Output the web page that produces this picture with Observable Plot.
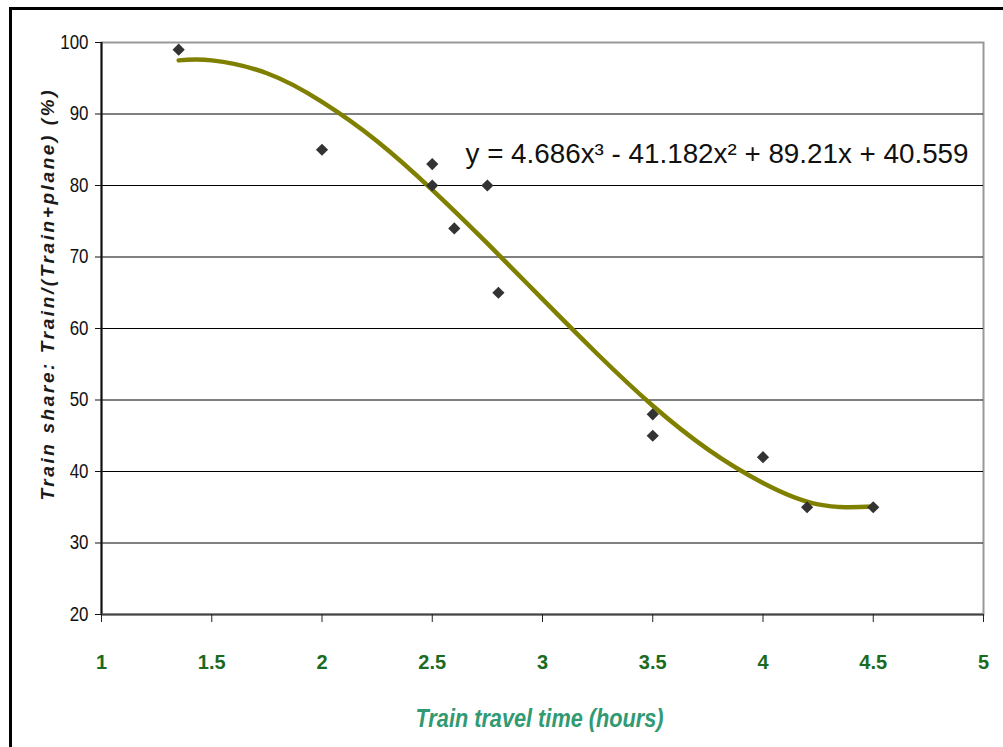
<!DOCTYPE html>
<html>
<head>
<meta charset="utf-8">
<script src="https://cdn.jsdelivr.net/npm/d3@7"></script>
<script src="https://cdn.jsdelivr.net/npm/@observablehq/plot@0.6"></script>
<style>
  html, body { margin: 0; padding: 0; background: #fff; }
  #wrap { position: relative; width: 1003px; height: 747px; overflow: hidden; }
  #outer { position: absolute; left: 9px; top: 7px; width: 1010px; height: 780px; border: 3px solid #000; box-sizing: border-box; pointer-events: none; }
  #chart { position: absolute; left: 0; top: 0; }
  g[aria-label="y-axis tick label"] text { font-size: 20px !important; }
  g[aria-label="x-axis tick label"] text { font-size: 20px !important; }
</style>
</head>
<body>
<div id="wrap"><div id="chart"></div><div id="outer"></div></div>
<script>
// Observed data points (train travel time in hours, train share in %)
const travelTime = [1.35, 2.0, 2.5, 2.5, 2.6, 2.75, 2.8, 3.5, 3.5, 4.0, 4.2, 4.5];
const trainShare = [99, 85, 83, 80, 74, 80, 65, 48, 45, 42, 35, 35];

// Trend line
const trendX = [1.35, 1.5, 1.75, 2.0, 2.25, 2.5, 2.75, 3.0, 3.25, 3.5, 3.75, 4.0, 4.25, 4.5];
const trendY = [97.5, 97.5, 95.7, 91.7, 86.2, 79.4, 71.9, 64.1, 56.4, 49.2, 43.1, 38.4, 35.4, 35.1];

// Tick labels
const xTicks = [1, 1.5, 2, 2.5, 3, 3.5, 4, 4.5, 5];
const yTicks = [20, 30, 40, 50, 60, 70, 80, 90, 100];
const gridTicks = [30, 40, 50, 60, 70, 80, 90];

const equationText = "y = 4.686x³ - 41.182x² + 89.21x + 40.559";
const xTitle = "Train travel time (hours)";
const yTitle = "Train share: Train/(Train+plane) (%)";

const points = travelTime.map((t, i) => ({t, s: trainShare[i]}));
const trend = trendX.map((t, i) => ({t, s: trendY[i]}));

const chart = Plot.plot({
  width: 1003,
  height: 747,
  marginLeft: 101,
  marginRight: 20,
  marginTop: 42,
  marginBottom: 133,
  style: {fontFamily: "'Liberation Sans', Arial, sans-serif", fontSize: "18px", background: "transparent", overflow: "visible"},
  x: {domain: [1, 5]},
  y: {domain: [20, 100]},
  marks: [
    Plot.frame({stroke: "#999", strokeWidth: 2}),
    Plot.gridY(gridTicks, {stroke: "#000", strokeOpacity: 1, strokeWidth: 1}),
    Plot.ruleX([1], {stroke: "#111", strokeWidth: 2}),
    Plot.ruleY([20], {stroke: "#444", strokeWidth: 2}),
    Plot.axisY(yTicks, {tickSize: 6, tickPadding: 7, fill: "#111", stroke: "#111", label: null, tickFormat: d => String(d)}),
    Plot.axisX(xTicks, {tickSize: 8, tickPadding: 32, fontWeight: "bold", fill: "#1a6b1f", stroke: "#222", label: null, tickFormat: d => String(d)}),
    Plot.line(trend, {x: "t", y: "s", curve: "natural", stroke: "#808000", strokeWidth: 4.5}),
    Plot.dot(points, {x: "t", y: "s", symbol: "diamond2", r: 5.5, fill: "#333", stroke: "none"}),
    Plot.text([equationText], {x: [2.651], y: [83.1], text: d => d, textAnchor: "start", lineAnchor: "bottom", fontSize: 28, fill: "#111"}),
    Plot.text([xTitle], {frameAnchor: "bottom", text: d => d, textAnchor: "middle", lineAnchor: "bottom", dy: 112, dx: -3, fontSize: 25, fontWeight: "bold", fontStyle: "italic", fill: "#319a72"}),
    Plot.text([yTitle], {frameAnchor: "left", text: d => d, textAnchor: "middle", rotate: -90, lineAnchor: "middle", dx: -54, dy: -33, fontSize: 19, fontWeight: "bold", fontStyle: "italic", fill: "#1a1a1a"})
  ]
});

document.getElementById("chart").appendChild(chart);

// fit text lengths to the reference
const yLabels = new Set(yTicks.map(String));
d3.select(chart).selectAll("text").each(function() {
  const t = this.textContent;
  const sel = d3.select(this);
  const anchor = this.closest("g[aria-label]");
  const aria = anchor ? anchor.getAttribute("aria-label") : "";
  if (aria === "y-axis tick label" && yLabels.has(t)) { sel.attr("textLength", t.length * 9.4).attr("lengthAdjust", "spacingAndGlyphs"); }
  if (t === equationText) { sel.attr("textLength", 503).attr("lengthAdjust", "spacingAndGlyphs"); }
  if (t === xTitle) { sel.attr("textLength", 248).attr("lengthAdjust", "spacingAndGlyphs"); }
  if (t === yTitle) { sel.attr("textLength", 410).attr("lengthAdjust", "spacing"); }
});
</script>
</body>
</html>
